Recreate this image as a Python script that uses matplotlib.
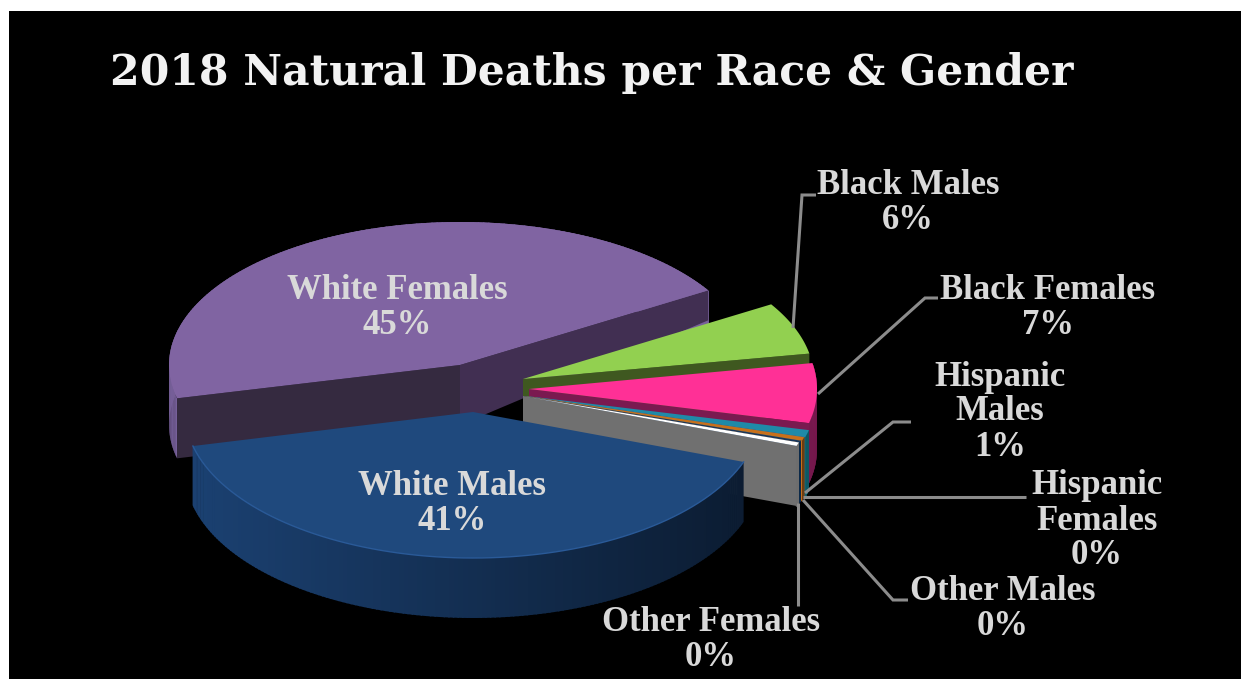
import numpy as np
import matplotlib
matplotlib.use("Agg")
import matplotlib.pyplot as plt
from matplotlib.patches import Polygon, Rectangle

title = "2018 Natural Deaths per Race & Gender"
categories = ["White Males", "White Females", "Black Males", "Black Females",
              "Hispanic Males", "Hispanic Females", "Other Males", "Other Females"]
values = [40.7, 45.0, 5.9, 6.6, 0.8, 0.4, 0.2, 0.4]
label_texts = ["White Males", "White Females", "Black Males", "Black Females",
               "Hispanic\nMales", "Hispanic\nFemales", "Other Males", "Other Females"]

# layout / style
W, H = 1241, 679
START = 20.0
DEPTH = 60
radius_x = [288, 291, 291, 288, 291, 291, 291, 291]
radius_y = [146, 143, 143, 146, 146, 146, 146, 146]
apex = [(473, 412), (460, 365), (523, 379), (529, 389), (526, 396), (525, 396), (524, 396), (523, 396)]
top_col = ["#1f497d", "#8064a2", "#92d050", "#ff3096", "#1f8aa8", "#c9701a", "#17375e", "#ffffff"]
rim_col = ["#17375e", "#77609a", "#3f5820", "#7a1a50", "#0e5a66", "#6e3c10", "#0c2a4a", "#6f6f6f"]
end_wall = ["#0c1c33", "#412f52", "#3f5820", "#7a1a50", "#1f8aa8", "#c9701a", "#0c2a4a", "#707070"]
start_wall = {1: "#352a40"}
far_depth = {1: 30}
label_pos = [(452, 504), (397, 308), (908, 203), (1048, 308), (1000, 412), (1097, 521), (1003, 609), (711, 640)]
leaders = [None, None,
           [(793, 328), (802, 195), (816, 195)],
           [(818, 394), (925, 298), (938, 298)],
           [(805, 493), (893, 422), (911, 422)],
           [(803, 497), (1026, 497)],
           [(803, 500), (893, 600), (908, 600)],
           [(798, 503), (798, 606)]]

fig = plt.figure(figsize=(W / 100, H / 100), dpi=100, facecolor="white")
ax = fig.add_axes([0, 0, 1, 1])
ax.set_xlim(0, W)
ax.set_ylim(H, 0)
ax.axis("off")
ax.add_patch(Rectangle((9, 11), W - 9, H - 11, fc="black", ec="none", zorder=0))


def pt(i, t, dz=0.0):
    r = np.radians(t)
    a = apex[i]
    return (a[0] + radius_x[i] * np.cos(r), a[1] + radius_y[i] * np.sin(r) + dz)


def mix(c1, c2, f):
    a, b = np.array(matplotlib.colors.to_rgb(c1)), np.array(matplotlib.colors.to_rgb(c2))
    return a + (b - a) * f


bounds = START + np.concatenate([[0], np.cumsum(values) / sum(values) * 360])
draw_order = [1, 2, 3, 4, 5, 6, 7, 0]
z = 1
for i in draw_order:
    a = apex[i]
    t0, t1 = bounds[i], bounds[i + 1]
    ts = np.linspace(t0, t1, 160)
    # outer rim in strips, shaded where it has a gradient
    if i != 2:
        for u, v in zip(ts[:-1], ts[1:]):
            c = np.cos(np.radians((u + v) / 2))
            col = mix("#0b1b30", "#1b4172", (1 - c) / 2) if i == 0 else rim_col[i]
            ax.add_patch(Polygon([pt(i, u), pt(i, v + 0.3), pt(i, v + 0.3, DEPTH), pt(i, u, DEPTH)],
                                 fc=col, ec="none", zorder=z))
        z += 1
    # side walls
    if i in start_wall:
        ax.add_patch(Polygon([a, pt(i, t0), pt(i, t0, DEPTH), (a[0], a[1] + DEPTH)],
                             fc=start_wall[i], ec="none", zorder=z))
        z += 1
    if i != 0:
        ax.add_patch(Polygon([a, pt(i, t1), pt(i, t1, far_depth.get(i, DEPTH)), (a[0], a[1] + DEPTH)],
                             fc=end_wall[i], ec="none", zorder=z))
        z += 1
    # top face
    arc = [pt(i, t) for t in ts]
    ax.add_patch(Polygon([a] + arc, fc=top_col[i], ec="none", zorder=z))
    z += 1
    if i == 0:
        xs, ys = zip(*arc)
        ax.plot(xs, ys, color="#2a5a98", lw=1, zorder=z)
        z += 1

for pts in leaders:
    if pts is None:
        continue
    xs, ys = zip(*pts)
    ax.plot(xs, ys, color="#8c8c8c", lw=2.2, solid_capstyle="butt", solid_joinstyle="miter", zorder=z)
z += 1

FONT = "Liberation Serif"
for name, v, p in zip(label_texts, values, label_pos):
    ax.text(p[0], p[1], f"{name}\n{round(v)}%", ha="center", va="center", color="#d9d9d9",
            family=FONT, weight="bold", fontsize=25, linespacing=1.08, zorder=z)

ax.text(110, 73, title, ha="left", va="center", color="#f2f2f2", family="DejaVu Serif",
        weight="bold", fontsize=30.6, zorder=z)

fig.savefig("out.png", dpi=100, facecolor="white")
